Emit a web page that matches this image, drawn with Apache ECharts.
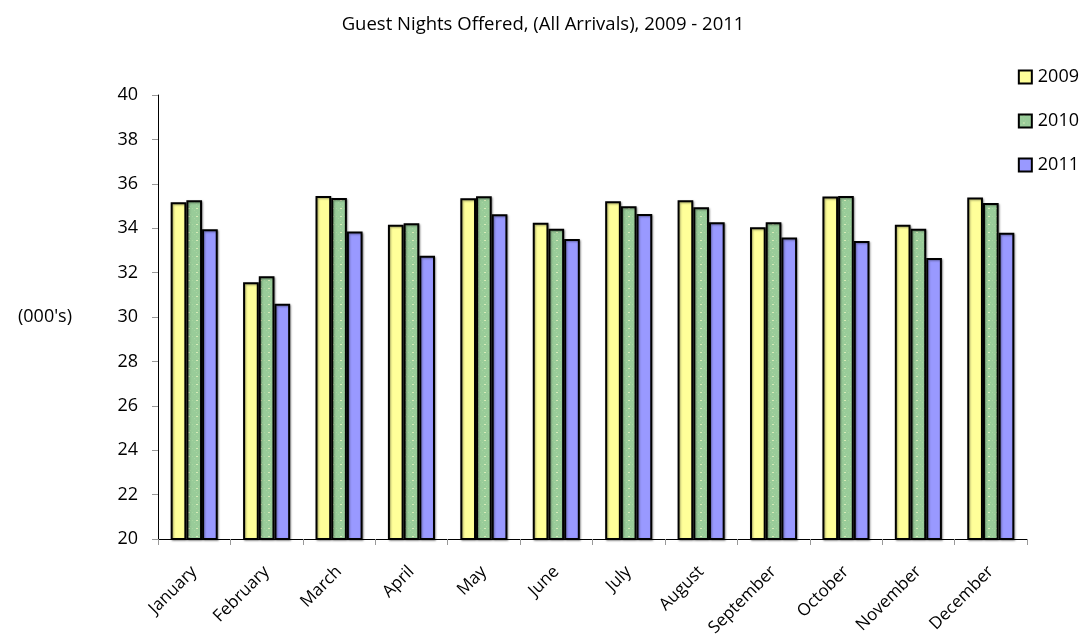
<!DOCTYPE html>
<html>
<head>
<meta charset="utf-8">
<script src="https://cdn.jsdelivr.net/npm/echarts@6/dist/echarts.min.js"></script>
<style>
  html, body { margin: 0; padding: 0; background: #fff; }
  #chart { width: 1086px; height: 640px; }
</style>
</head>
<body>
<div id="chart"></div>
<script>
// 月份与各年份数据（千）
const months = ['January', 'February', 'March', 'April', 'May', 'June',
  'July', 'August', 'September', 'October', 'November', 'December'];
const years = ['2009', '2010', '2011'];
const v2009 = [35.17, 31.56, 35.45, 34.16, 35.35, 34.25, 35.21, 35.26, 34.04, 35.43, 34.16, 35.38];
const v2010 = [35.26, 31.83, 35.36, 34.22, 35.44, 33.98, 34.99, 34.94, 34.27, 35.45, 33.98, 35.14];
const v2011 = [33.95, 30.60, 33.85, 32.76, 34.63, 33.51, 34.64, 34.27, 33.58, 33.42, 32.66, 33.80];
const yTicks = [20, 22, 24, 26, 28, 30, 32, 34, 36, 38, 40];

const font = '"Open Sans", "Noto Sans", sans-serif';

// 绿色点状填充
function dotPattern() {
  const c = document.createElement('canvas');
  c.width = 8; c.height = 8;
  const ctx = c.getContext('2d');
  ctx.fillStyle = '#99cc99';
  ctx.fillRect(0, 0, 8, 8);
  ctx.fillStyle = '#a8d4a0';
  ctx.fillRect(0, 0, 1, 1);
  ctx.fillRect(2, 2, 1, 1);
  ctx.fillRect(4, 4, 1, 1);
  ctx.fillRect(6, 6, 1, 1);
  ctx.fillStyle = '#d8ecb8';
  ctx.fillRect(4, 0, 2, 1);
  return c;
}

const fills = ['#ffff99', { image: dotPattern(), repeat: 'repeat' }, '#9999ff'];
const seriesData = [v2009, v2010, v2011];

let chart = echarts.init(document.getElementById('chart'));

let option = {
  animation: false,
  title: {
    text: 'Guest Nights Offered, (All Arrivals), 2009 - 2011',
    left: 'center',
    top: 10,
    textStyle: { fontFamily: font, fontSize: 18.5, fontWeight: 'normal', color: '#000' }
  },
  legend: {
    orient: 'vertical',
    right: 2,
    top: 63,
    itemGap: 26,
    itemWidth: 13,
    itemHeight: 13,
    icon: 'rect',
    textStyle: { fontFamily: font, fontSize: 18, color: '#000', padding: [0, 0, 0, 1] },
    data: years
  },
  grid: { left: 158, right: 59, top: 95, bottom: 101 },
  xAxis: {
    type: 'category',
    data: months,
    axisLine: { lineStyle: { color: '#000', width: 1 } },
    axisTick: { show: true, alignWithLabel: false, length: 6, lineStyle: { color: '#999' } },
    axisLabel: { rotate: 45, fontFamily: font, fontSize: 17, color: '#000', margin: 30, interval: 0 }
  },
  yAxis: {
    type: 'value',
    min: yTicks[0],
    max: yTicks[yTicks.length - 1],
    interval: 2,
    name: "(000's)",
    nameLocation: 'middle',
    nameRotate: 0,
    nameGap: 86,
    nameTextStyle: { fontFamily: font, fontSize: 18, color: '#000' },
    axisLine: { show: true, lineStyle: { color: '#000', width: 1 } },
    axisTick: { show: true, length: 6, lineStyle: { color: '#999' } },
    splitLine: { show: false },
    axisLabel: { fontFamily: font, fontSize: 18, color: '#000', margin: 20 }
  },
  series: years.map((y, i) => ({
    name: y,
    type: 'bar',
    data: seriesData[i],
    barGap: '0%',
    barCategoryGap: '35%',
    itemStyle: {
      color: fills[i],
      borderColor: '#000',
      borderWidth: 2,
      shadowColor: 'rgba(0,0,0,0.35)',
      shadowBlur: 2,
      shadowOffsetX: 1,
      shadowOffsetY: 1
    }
  }))
};

chart.setOption(option);
</script>
</body>
</html>
